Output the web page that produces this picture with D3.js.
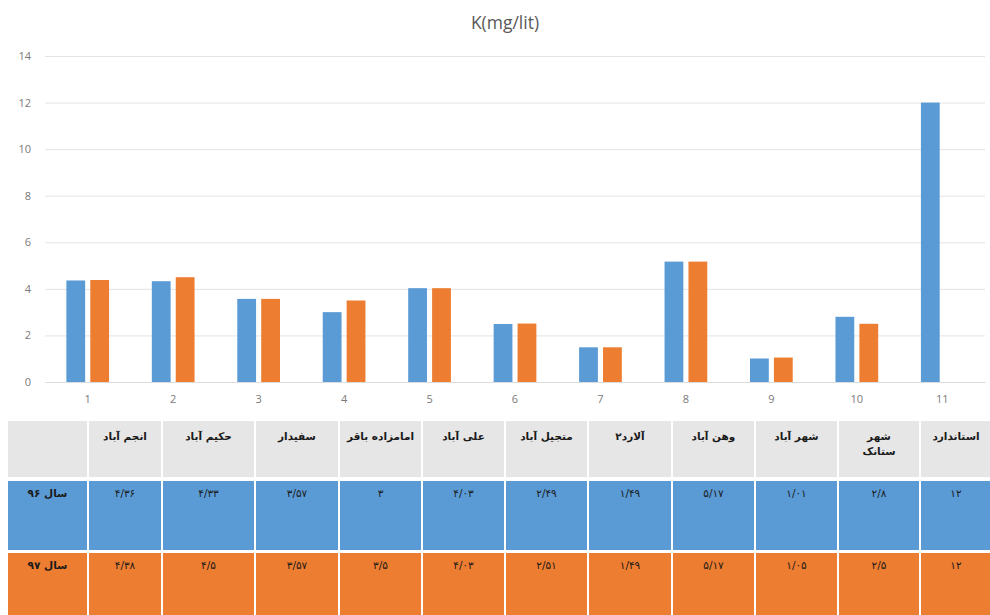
<!DOCTYPE html>
<html>
<head>
<meta charset="utf-8">
<script src="https://cdn.jsdelivr.net/npm/d3@7"></script>
<style>
  html, body { margin: 0; padding: 0; background: #fff; }
  svg { display: block; }
</style>
</head>
<body>
<svg id="chart" width="990" height="615"></svg>
<script>
// Sampling stations (numbered 1..11 on the chart axis)
const stationIds = [1, 2, 3, 4, 5, 6, 7, 8, 9, 10, 11];
const stationNames = ["انجم آباد", "حکیم آباد", "سفیدار", "امامزاده باقر", "علی آباد",
  "متجیل آباد", "آلارد۲", "وهن آباد", "شهر آباد", "شهر ستانک", "استاندارد"];
// Potassium, mg/lit
const k96 = [4.36, 4.33, 3.57, 3, 4.03, 2.49, 1.49, 5.17, 1.01, 2.8, 12];
const k97 = [4.38, 4.5, 3.57, 3.5, 4.03, 2.51, 1.49, 5.17, 1.05, 2.5, 12];
// The 1397 series is plotted for the stations only, not for the standard
const plot97 = [true, true, true, true, true, true, true, true, true, true, false];
const seriesNames = ["سال ۹۶", "سال ۹۷"];
const yTicks = [0, 2, 4, 6, 8, 10, 12, 14];

const colors = ["#5B9BD5", "#ED7D31"];
const svg = d3.select("#chart");

// ---- chart ----
const plot = { left: 45, right: 985, top: 56, bottom: 382 };
const x = d3.scaleBand().domain(stationIds).range([plot.left, plot.right]).padding(0);
const y = d3.scaleLinear().domain([0, 14]).range([plot.bottom, plot.top]);

svg.append("text")
  .attr("x", 505).attr("y", 29)
  .attr("text-anchor", "middle")
  .attr("font-family", "Open Sans, sans-serif")
  .attr("font-size", 17.5).attr("fill", "#595959")
  .text("K(mg/lit)");

const yAxis = svg.append("g")
  .attr("transform", `translate(${plot.left},0)`)
  .call(d3.axisLeft(y).tickValues(yTicks).tickSize(-(plot.right - plot.left)).tickPadding(14));
yAxis.select(".domain").remove();
yAxis.selectAll(".tick line").attr("stroke", "#e3e3e3").attr("stroke-width", 1);
yAxis.selectAll(".tick text")
  .attr("font-family", "Open Sans, sans-serif").attr("font-size", 11).attr("fill", "#7a7a7a");

const xAxis = svg.append("g")
  .attr("transform", `translate(0,${plot.bottom})`)
  .call(d3.axisBottom(x).tickSize(0).tickPadding(13));
xAxis.select(".domain").attr("stroke", "#dcdcdc");
xAxis.selectAll(".tick text")
  .attr("font-family", "Open Sans, sans-serif").attr("font-size", 11).attr("fill", "#7a7a7a");

const bw = x.bandwidth();
const barW = bw * 0.22;
const offs = [-bw * 0.14, bw * 0.14];
const series = [
  stationIds.map((id, i) => ({ id, v: k96[i] })),
  stationIds.map((id, i) => ({ id, v: plot97[i] ? k97[i] : null }))
];
series.forEach((s, si) => {
  svg.append("g").selectAll("rect")
    .data(s.filter(d => d.v != null))
    .join("rect")
    .attr("x", d => x(d.id) + bw / 2 + offs[si] - barW / 2)
    .attr("width", barW)
    .attr("y", d => y(d.v))
    .attr("height", d => y(0) - y(d.v))
    .attr("fill", colors[si]);
});

// ---- data table ----
const faDigits = "۰۱۲۳۴۵۶۷۸۹";
const toFa = v => String(v).replace(".", "/").replace(/[0-9]/g, c => faDigits[+c]);

const colEdges = [7, 88, 162, 255, 339, 422, 505, 588, 672, 755, 838, 920, 992];
const rows = [
  { top: 421, bottom: 477, fill: "#e6e6e6" },
  { top: 481, bottom: 550, fill: colors[0] },
  { top: 553, bottom: 620, fill: colors[1] }
];
const table = svg.append("g");
rows.forEach(r => {
  table.append("g").selectAll("rect")
    .data(d3.range(colEdges.length - 1))
    .join("rect")
    .attr("x", c => colEdges[c] + 1)
    .attr("width", c => colEdges[c + 1] - colEdges[c] - 2)
    .attr("y", r.top).attr("height", r.bottom - r.top)
    .attr("fill", r.fill);
});
const cx = c => (colEdges[c] + colEdges[c + 1]) / 2;
const cellFont = "DejaVu Sans, Noto Sans, sans-serif";

// header row: station names
stationNames.forEach((name, i) => {
  const words = name === "شهر ستانک" ? ["شهر", "ستانک"] : [name];
  const t = table.append("text")
    .attr("x", cx(i + 1)).attr("y", 440)
    .attr("text-anchor", "middle").attr("direction", "rtl")
    .attr("font-family", cellFont).attr("font-size", 10.5).attr("font-weight", "bold")
    .attr("fill", "#1a1a1a");
  words.forEach((w, j) => {
    t.append("tspan").attr("x", cx(i + 1)).attr("dy", j ? 15 : 0).text(w);
  });
});

// value rows
[k96, k97].forEach((vals, ri) => {
  const baseY = ri === 0 ? 497 : 569;
  table.append("text")
    .attr("x", cx(0)).attr("y", baseY)
    .attr("text-anchor", "middle").attr("direction", "rtl")
    .attr("font-family", cellFont).attr("font-size", 10.5).attr("font-weight", "bold")
    .attr("fill", "#1a1a1a")
    .text(seriesNames[ri]);
  table.append("g").selectAll("text")
    .data(vals)
    .join("text")
    .attr("x", (d, i) => cx(i + 1)).attr("y", baseY)
    .attr("text-anchor", "middle")
    .attr("font-family", cellFont).attr("font-size", 10.5)
    .attr("fill", "#1a1a1a")
    .text(d => toFa(d));
});
</script>
</body>
</html>
